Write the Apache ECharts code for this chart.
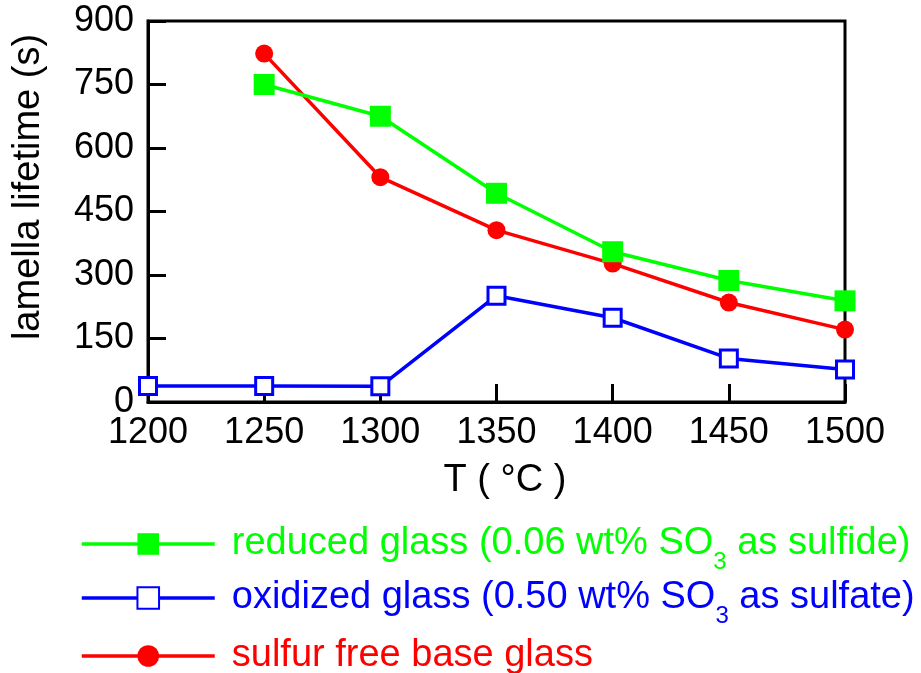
<!DOCTYPE html>
<html>
<head>
<meta charset="utf-8">
<script src="https://cdn.jsdelivr.net/npm/echarts@6/dist/echarts.min.js"></script>
<style>
html,body{margin:0;padding:0;background:#fff;}
#chart{width:921px;height:673px;}
</style>
</head>
<body>
<div id="chart"></div>
<script>
var temperatures = [1200, 1250, 1300, 1350, 1400, 1450, 1500];
var reducedT = [1250, 1300, 1350, 1400, 1450, 1500];
var reducedValues = [750, 675, 493, 355, 287, 239];
var oxidizedT = [1200, 1250, 1300, 1350, 1400, 1450, 1500];
var oxidizedValues = [38, 38, 37, 251, 199, 103, 77];
var freeT = [1250, 1300, 1350, 1400, 1450, 1500];
var freeValues = [823, 531, 406, 327, 235, 171];
var yTicks = [0, 150, 300, 450, 600, 750, 900];
var seriesNames = [
  'reduced glass (0.06 wt% SO3 as sulfide)',
  'oxidized glass (0.50 wt% SO3 as sulfate)',
  'sulfur free base glass'
];
var legendLabels = [
  'reduced glass (0.06 wt% SO{sub|3} as sulfide)',
  'oxidized glass (0.50 wt% SO{sub|3} as sulfate)',
  'sulfur free base glass'
];
var colors = ['#00ff00', '#0000ff', '#ff0000'];

function zip(xs, ys) { return xs.map(function (x, i) { return [x, ys[i]]; }); }

var FONT = '"Liberation Sans", Arial, sans-serif';
var chart = echarts.init(document.getElementById('chart'), null, {renderer: 'canvas'});

function subRich(color) {
  return {
    sub: {color: color, fontSize: 24, fontFamily: FONT, padding: [36, 0, 0, 0]}
  };
}

var legendTops = [525, 579, 637];
var legends = seriesNames.map(function (n, i) {
  return {
    orient: 'vertical', left: 80, top: legendTops[i], padding: 0,
    itemWidth: 133, itemHeight: 27,
    lineStyle: {width: 3.5},
    textStyle: {fontSize: 38, fontFamily: FONT, color: colors[i],
      padding: [0, 0, 0, 12], rich: subRich(colors[i])},
    formatter: function (name) { return legendLabels[seriesNames.indexOf(name)]; },
    data: [n]
  };
});

var option = {
  backgroundColor: '#ffffff',
  animation: false,
  grid: {
    left: 148, right: 76, top: 21, height: 381,
    show: true, borderColor: '#000', borderWidth: 3, backgroundColor: 'transparent'
  },
  xAxis: {
    type: 'value', min: 1200, max: 1500, interval: 50,
    name: 'T ( °C )', nameLocation: 'middle', nameGap: 60,
    nameTextStyle: {fontSize: 38, color: '#000', fontFamily: FONT, padding: [0, 0, 0, 17]},
    axisLine: {show: true, onZero: false, lineStyle: {color: '#000', width: 3}},
    axisTick: {show: true, inside: true, length: 18, lineStyle: {color: '#000', width: 3}},
    axisLabel: {fontSize: 36, color: '#000', fontFamily: FONT, margin: 13,
      formatter: function (v) { return String(v); }},
    splitLine: {show: false}
  },
  yAxis: {
    type: 'value', min: yTicks[0], max: yTicks[yTicks.length - 1], interval: 150,
    name: 'lamella lifetime (s)', nameLocation: 'middle', nameGap: 100,
    nameTextStyle: {fontSize: 38, color: '#000', fontFamily: FONT, padding: [0, 0, 0, 49]},
    axisLine: {show: true, onZero: false, lineStyle: {color: '#000', width: 3}},
    axisTick: {show: true, inside: true, length: 18, lineStyle: {color: '#000', width: 3}},
    axisLabel: {fontSize: 36, color: '#000', fontFamily: FONT, margin: 14,
      formatter: function (v) { return String(v); }},
    splitLine: {show: false}
  },
  legend: legends,
  series: [
    {
      name: seriesNames[2], type: 'line', z: 2,
      data: zip(freeT, freeValues),
      symbol: 'circle', symbolSize: 18,
      lineStyle: {color: colors[2], width: 3.5},
      itemStyle: {color: colors[2]}
    },
    {
      name: seriesNames[1], type: 'line', z: 2,
      data: zip(oxidizedT, oxidizedValues),
      symbol: 'rect', symbolSize: 17,
      lineStyle: {color: colors[1], width: 3.5},
      itemStyle: {color: '#ffffff', borderColor: colors[1], borderWidth: 3}
    },
    {
      name: seriesNames[0], type: 'line', z: 3,
      data: zip(reducedT, reducedValues),
      symbol: 'rect', symbolSize: 21,
      lineStyle: {color: colors[0], width: 3.5},
      itemStyle: {color: colors[0]}
    }
  ]
};
chart.setOption(option);
</script>
</body>
</html>
